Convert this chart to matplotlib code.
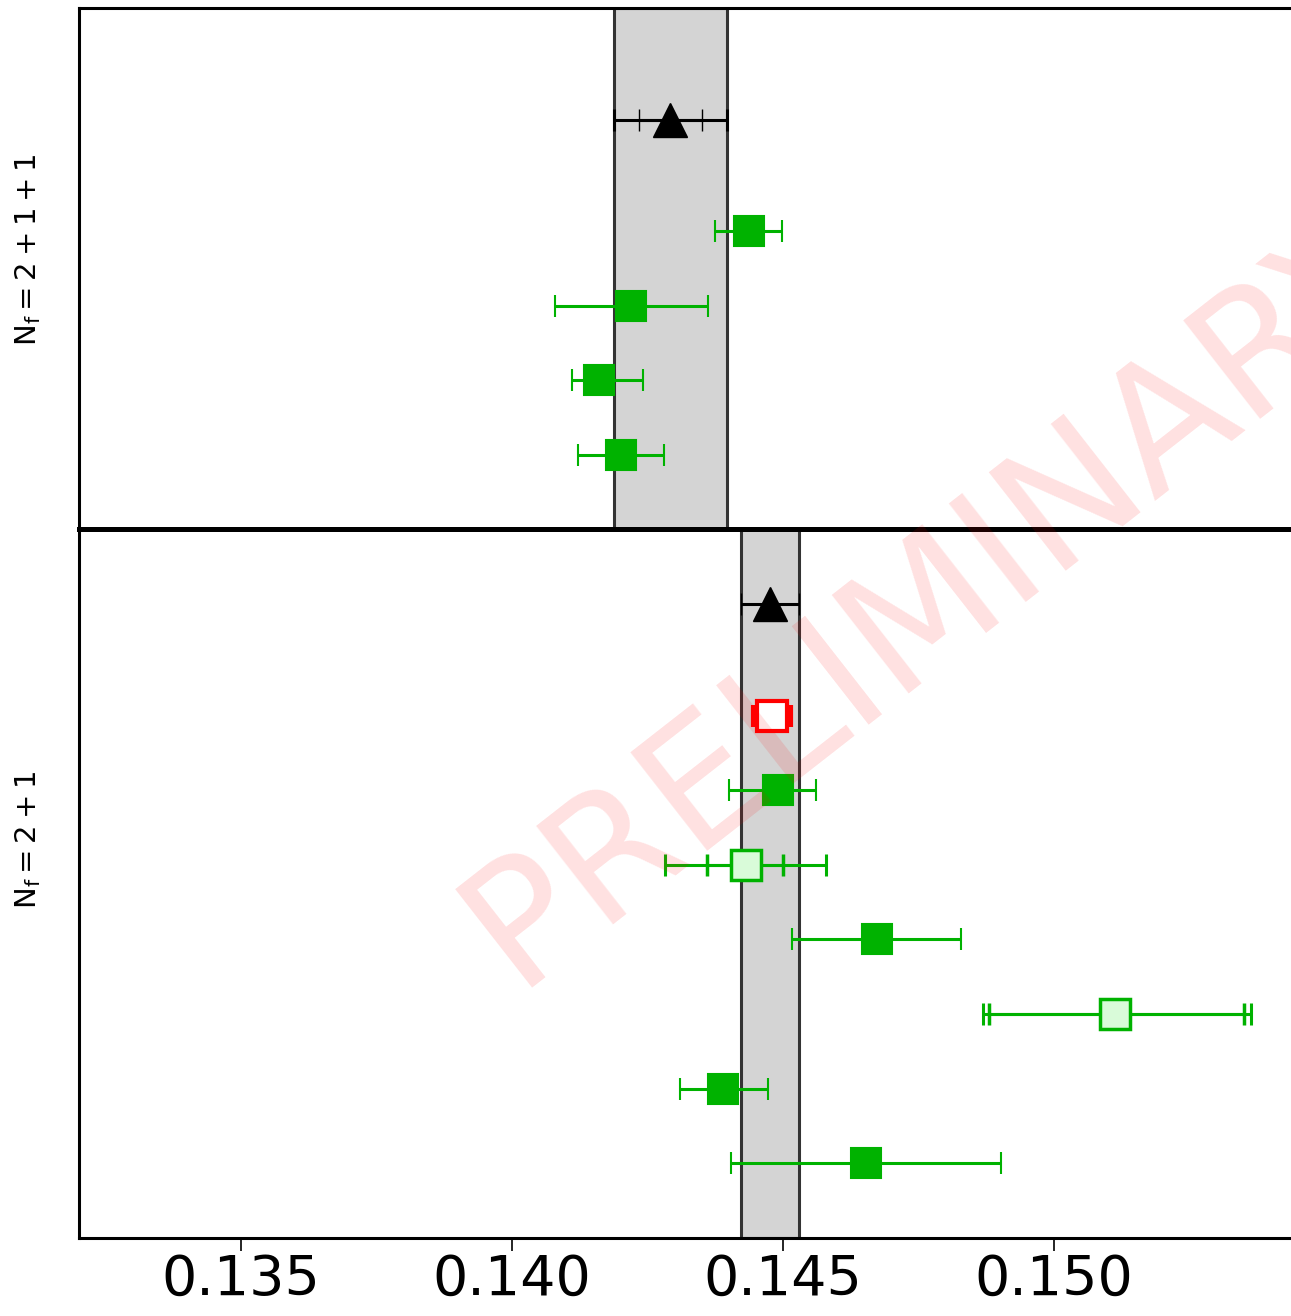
import matplotlib
matplotlib.use('Agg')
import matplotlib.pyplot as plt
import numpy as np

plt.rcParams['font.family'] = ['DejaVu Sans']
plt.rcParams['mathtext.fontset'] = 'dejavusans'

GREEN = '#00b200'
LIGHT = '#d9fbd9'

# ---- N_f = 2+1+1 panel ----
top_avg = 0.14292
top_avg_inner = 0.00058
top_avg_outer = 0.00104
top_y = [4, 3, 2, 1]
top_x = [0.14437, 0.14220, 0.14161, 0.14201]
top_lo = [0.14375, 0.14079, 0.14111, 0.14122]
top_hi = [0.14498, 0.14362, 0.14242, 0.14280]

# ---- N_f = 2+1 panel ----
bot_avg = 0.14476
bot_avg_err = 0.00053
red_x, red_err = 0.14480, 0.00035
bot_y = [6, 4, 2, 1]
bot_x = [0.14491, 0.14673, 0.14390, 0.14653]
bot_lo = [0.14400, 0.14517, 0.14309, 0.14404]
bot_hi = [0.14561, 0.14828, 0.14473, 0.14902]
# open squares, two error bars each (inner / outer)
open_y = [5, 3]
open_x = [0.14431, 0.15113]
open_lo_in = [0.14360, 0.14880]
open_hi_in = [0.14500, 0.15351]
open_lo_out = [0.14282, 0.14868]
open_hi_out = [0.14579, 0.15364]

xmin, xmax = 0.13201, 0.15437

W, H = 1291, 1316
fig = plt.figure(figsize=(W / 100, H / 100), dpi=100)
ax1 = fig.add_axes([79 / W, 1 - 529 / H, 1 - 79 / W, (529 - 8) / H])
ax2 = fig.add_axes([79 / W, 1 - 1238 / H, 1 - 79 / W, (1238 - 529) / H])

eb = dict(ls='none', elinewidth=2.2, capsize=8, capthick=2.2)

def errs(x, lo, hi):
    x = np.array(x)
    return [x - np.array(lo), np.array(hi) - x]

# top panel
ax1.axvspan(top_avg - top_avg_outer, top_avg + top_avg_outer,
            facecolor='#d4d4d4', edgecolor='#333333', lw=2.2, zorder=0)
ax1.errorbar([top_avg], [5.5], xerr=top_avg_outer, color='black', **eb)
ax1.errorbar([top_avg], [5.5], xerr=top_avg_inner, color='black',
             marker='^', ms=24, mew=1, **eb)
ax1.errorbar(top_x, top_y, xerr=errs(top_x, top_lo, top_hi), color=GREEN,
             marker='s', ms=22, mew=1.5, **eb)
ax1.set_ylim(0, 7)

# bottom panel
ax2.axvspan(bot_avg - bot_avg_err, bot_avg + bot_avg_err,
            facecolor='#d4d4d4', edgecolor='#333333', lw=2.2, zorder=0)
ax2.errorbar([bot_avg], [8.5], xerr=bot_avg_err, color='black',
             marker='^', ms=24, mew=1, **eb)
ax2.errorbar([red_x], [7], xerr=red_err, color='red', marker='s', ms=21,
             mfc='white', mec='red', mew=3, **eb)
ax2.errorbar(bot_x, bot_y, xerr=errs(bot_x, bot_lo, bot_hi), color=GREEN,
             marker='s', ms=22, mew=1.5, **eb)
ax2.errorbar(open_x, open_y, xerr=errs(open_x, open_lo_out, open_hi_out),
             color=GREEN, **eb)
ax2.errorbar(open_x, open_y, xerr=errs(open_x, open_lo_in, open_hi_in),
             color=GREEN, marker='s', ms=21, mfc=LIGHT, mec=GREEN, mew=2.5, **eb)
ax2.set_ylim(0, 9.5)

for ax in (ax1, ax2):
    ax.set_xlim(xmin, xmax)
    ax.set_yticks([])
    ax.spines['right'].set_visible(False)
    for s in ('left', 'top', 'bottom'):
        ax.spines[s].set_linewidth(2.2)
# the shared border between the panels looks heavier
ax1.spines['bottom'].set_linewidth(3.6)
ax2.spines['top'].set_linewidth(3.6)

ax1.set_xticks([])
ax2.set_xticks([0.135, 0.140, 0.145, 0.150])
ax2.set_xticklabels(['0.135', '0.140', '0.145', '0.150'])
ax2.tick_params(axis='x', length=9, width=1.2, pad=2, labelsize=40)

fig.text(28 / W, 1 - 250 / H, r'$\mathrm{N_f = 2+1+1}$', rotation=90,
         ha='center', va='center', fontsize=21)
fig.text(28 / W, 1 - 840 / H, r'$\mathrm{N_f = 2+1}$', rotation=90,
         ha='center', va='center', fontsize=21)

fig.text(935 / W, 1 - 600 / H, 'PRELIMINARY', rotation=38, color='red',
         alpha=0.12, fontsize=124, ha='center', va='center')

fig.savefig('out.png', dpi=100)
